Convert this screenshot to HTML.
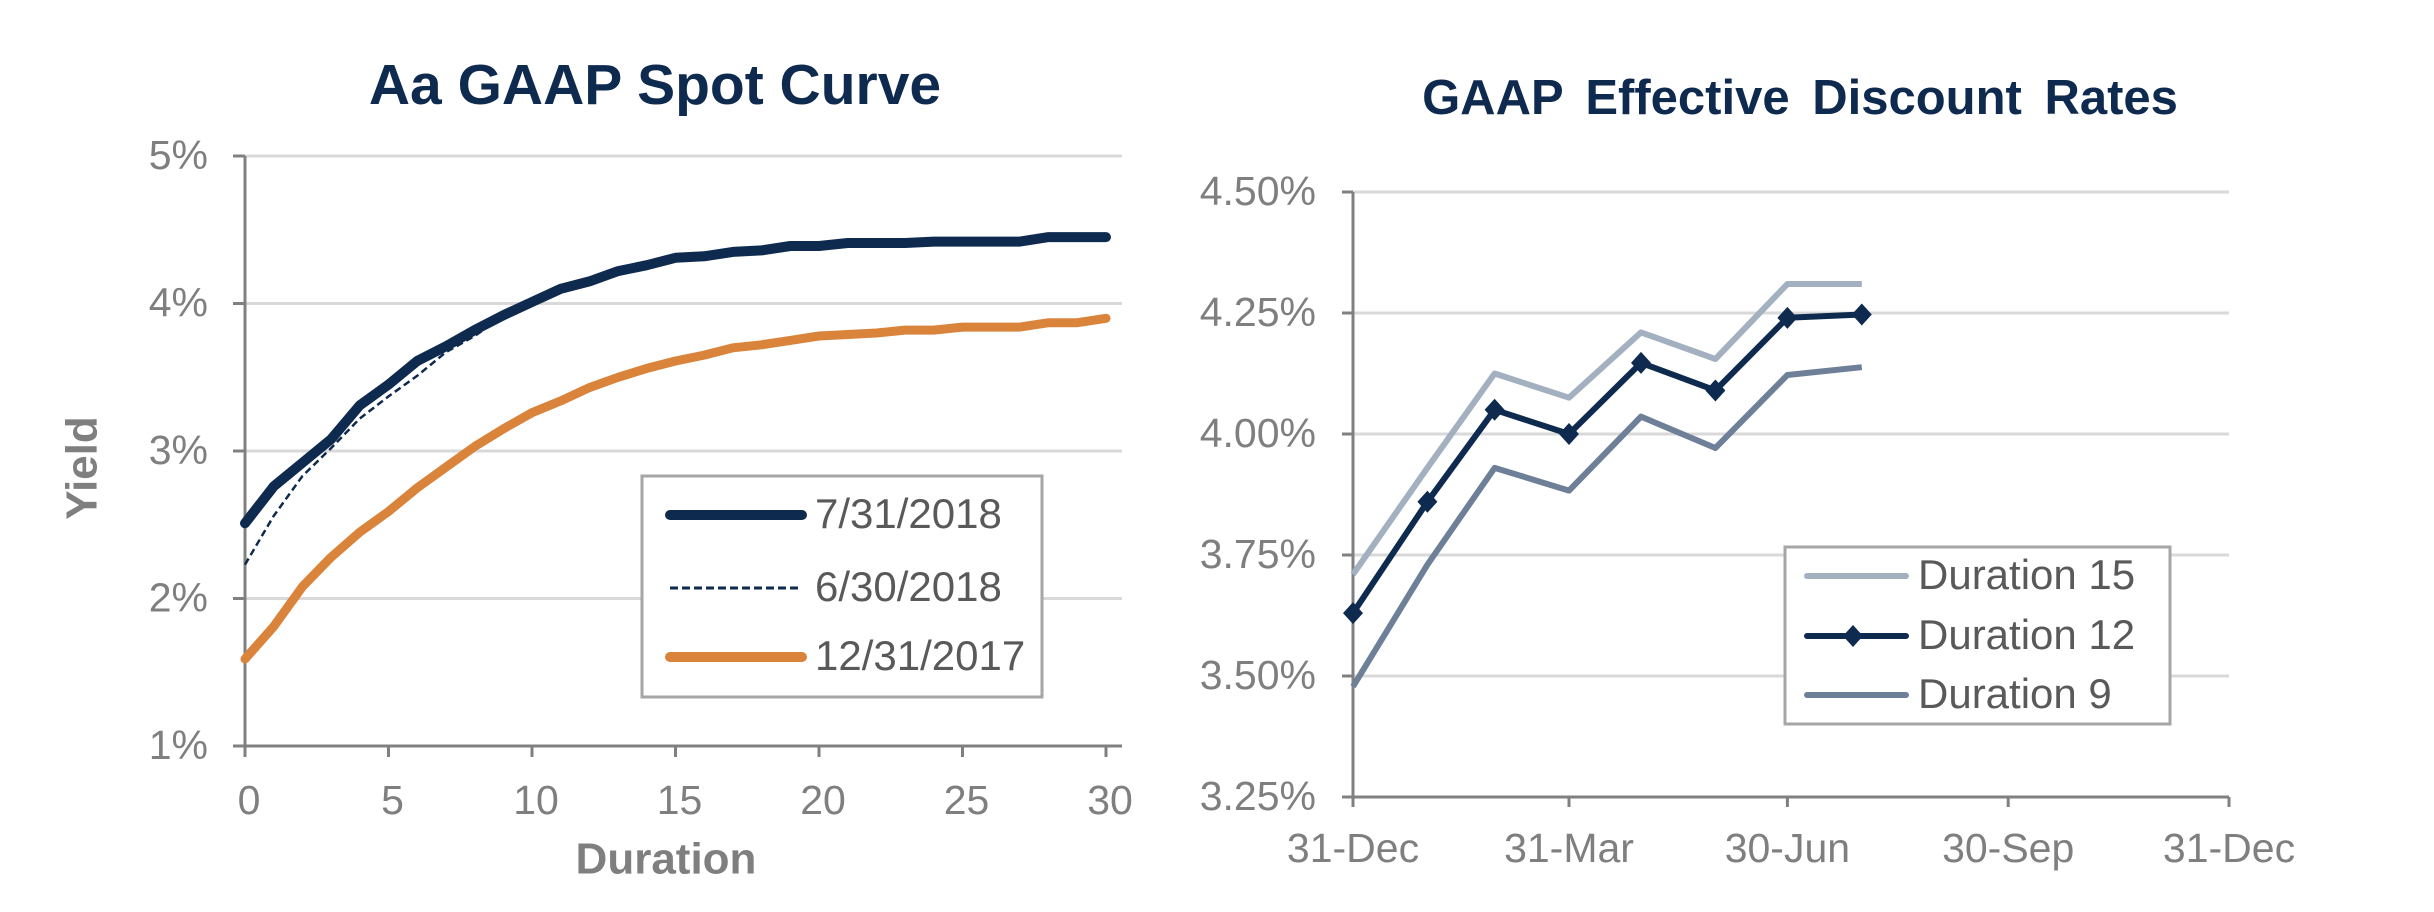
<!DOCTYPE html>
<html><head><meta charset="utf-8"><style>
html,body{margin:0;padding:0;background:#fff;overflow:hidden;}
svg{display:block;}
text{font-family:"Liberation Sans",sans-serif;}
.t{font-weight:bold;fill:#0f2a4f;}
.tick{fill:#7f7f7f;font-size:41px;}
.leg{fill:#595959;font-size:42px;}
</style></head><body>
<svg id="c" width="2434" height="912" viewBox="0 0 2434 912" xmlns="http://www.w3.org/2000/svg">
<text class="t" x="655" y="89" font-size="57" text-anchor="middle" dominant-baseline="middle">Aa GAAP Spot Curve</text>
<text class="t" x="1800" y="101" font-size="49" text-anchor="middle" dominant-baseline="middle" word-spacing="9">GAAP Effective Discount Rates</text>
<text x="666" y="862" font-size="44" font-weight="bold" fill="#7f7f7f" text-anchor="middle" dominant-baseline="middle">Duration</text>
<text x="85" y="468" font-size="44" font-weight="bold" fill="#7f7f7f" text-anchor="middle" dominant-baseline="middle" transform="rotate(-90 85 468)">Yield</text>
<g id="L"></g><g id="R"></g>
</svg>
<script>
const NS="http://www.w3.org/2000/svg";
// Left chart data
const durations=[0,1,2,3,4,5,6,7,8,9,10,11,12,13,14,15,16,17,18,19,20,21,22,23,24,25,26,27,28,29,30];
const y20180731=[2.51,2.76,2.92,3.08,3.31,3.45,3.61,3.71,3.82,3.92,4.01,4.1,4.15,4.22,4.26,4.31,4.32,4.35,4.36,4.39,4.39,4.41,4.41,4.41,4.42,4.42,4.42,4.42,4.45,4.45,4.45];
const durations0630=[0,1,2,3,4,5,6,7,8,8.3];
const y20180630=[2.23,2.56,2.83,3.02,3.22,3.37,3.51,3.67,3.78,3.82];
const y20171231=[1.59,1.81,2.08,2.28,2.45,2.59,2.75,2.89,3.03,3.15,3.26,3.34,3.43,3.5,3.56,3.61,3.65,3.7,3.72,3.75,3.78,3.79,3.8,3.82,3.82,3.84,3.84,3.84,3.87,3.87,3.9];
const leftYTicks=[1,2,3,4,5];
const leftYLabels=["1%","2%","3%","4%","5%"];
const leftXTicks=[0,5,10,15,20,25,30];
// Right chart data
const days=[0,31,59,90,120,151,181,212];
const dur15=[3.71,3.93,4.125,4.075,4.21,4.155,4.31,4.31];
const dur12=[3.63,3.86,4.05,4.0,4.147,4.09,4.24,4.247];
const dur9=[3.478,3.73,3.93,3.883,4.036,3.971,4.122,4.138];
const rightYTicks=[3.25,3.5,3.75,4.0,4.25,4.5];
const rightYLabels=["3.25%","3.50%","3.75%","4.00%","4.25%","4.50%"];
const rightXTicks=[0,90,181,273,365];
const rightXLabels=["31-Dec","31-Mar","30-Jun","30-Sep","31-Dec"];

function el(tag,attrs,parent,txt){const e=document.createElementNS(NS,tag);for(const k in attrs)e.setAttribute(k,attrs[k]);if(txt!==undefined)e.textContent=txt;parent.appendChild(e);return e;}
function path(xs,ys,fx,fy){return xs.map((x,i)=>(i?'L':'M')+fx(x).toFixed(1)+','+fy(ys[i]).toFixed(1)).join('');}

// LEFT
const L=document.getElementById('L');
const lx=v=>245+v*(1106-245)/30, ly=v=>746-(v-1)*147.5;
leftYTicks.forEach((v,i)=>{
  if(v>1){const g=el('line',{x1:245,x2:1122,y1:ly(v),y2:ly(v),stroke:'#d9d9d9','stroke-width':3},L);
  }
  el('line',{x1:233,x2:245,y1:ly(v),y2:ly(v),stroke:'#808080','stroke-width':3},L);
  const t=el('text',{x:208,y:ly(v)+2,'text-anchor':'end','dominant-baseline':'middle',class:'tick'},L,leftYLabels[i]);
  
});
leftXTicks.forEach(v=>{
  el('line',{x1:lx(v),x2:lx(v),y1:746,y2:757,stroke:'#808080','stroke-width':3},L);
  const t=el('text',{x:lx(v)+4,y:803,'text-anchor':'middle','dominant-baseline':'middle',class:'tick'},L,String(v));
  
});
el('line',{x1:245,x2:245,y1:156,y2:757,stroke:'#808080','stroke-width':3},L);
el('line',{x1:233,x2:1122,y1:746,y2:746,stroke:'#808080','stroke-width':3},L);
let p=el('path',{d:path(durations,y20171231,lx,ly),fill:'none',stroke:'#d9833b','stroke-width':9,'stroke-linejoin':'round','stroke-linecap':'round'},L);

p=el('path',{d:path(durations,y20180731,lx,ly),fill:'none',stroke:'#0f2a4f','stroke-width':10,'stroke-linejoin':'round','stroke-linecap':'round'},L);

p=el('path',{d:path(durations0630,y20180630,lx,ly),fill:'none',stroke:'#0f2a4f','stroke-width':2.5,'stroke-dasharray':'7,4'},L);

let lb=el('rect',{x:642,y:476,width:400,height:221,fill:'#fff',stroke:'#a6a6a6','stroke-width':3},L);

[['7/31/2018',515,'#0f2a4f',10,''],['6/30/2018',588,'#0f2a4f',3,'8,4'],['12/31/2017',657,'#d9833b',10,'']].forEach(r=>{
  el('line',{x1:670,x2:802,y1:r[1],y2:r[1],stroke:r[2],'stroke-width':r[3],'stroke-dasharray':r[4]||'none','stroke-linecap':r[4]?'butt':'round'},L);
  const t=el('text',{x:815,y:r[1]+2,'dominant-baseline':'middle',class:'leg'},L,r[0]);
  
});

// RIGHT
const R=document.getElementById('R');
const rx=v=>1353+v*(2229-1353)/365, ry=v=>797-(v-3.25)*484;
rightYTicks.forEach((v,i)=>{
  if(v>3.25){const g=el('line',{x1:1353,x2:2229,y1:ry(v),y2:ry(v),stroke:'#d9d9d9','stroke-width':3},R);
  }
  el('line',{x1:1342,x2:1353,y1:ry(v),y2:ry(v),stroke:'#808080','stroke-width':3},R);
  const t=el('text',{x:1316,y:ry(v)+2,'text-anchor':'end','dominant-baseline':'middle',class:'tick','font-size':'40'},R,rightYLabels[i]);
  
});
rightXTicks.forEach((v,i)=>{
  el('line',{x1:rx(v),x2:rx(v),y1:797,y2:807,stroke:'#808080','stroke-width':3},R);
  const t=el('text',{x:rx(v),y:851,'text-anchor':'middle','dominant-baseline':'middle',class:'tick','font-size':'40'},R,rightXLabels[i]);
  
});
el('line',{x1:1353,x2:1353,y1:192,y2:807,stroke:'#808080','stroke-width':3},R);
el('line',{x1:1342,x2:2229,y1:797,y2:797,stroke:'#808080','stroke-width':3},R);
p=el('path',{d:path(days,dur15,rx,ry),fill:'none',stroke:'#a3b0c0','stroke-width':6,'stroke-linejoin':'round'},R);

p=el('path',{d:path(days,dur9,rx,ry),fill:'none',stroke:'#6e8098','stroke-width':6,'stroke-linejoin':'round'},R);

p=el('path',{d:path(days,dur12,rx,ry),fill:'none',stroke:'#0f2a4f','stroke-width':6,'stroke-linejoin':'round'},R);

days.forEach((d,i)=>{
  const x=rx(d),y=ry(dur12[i]);
  const m=el('path',{d:`M${x},${y-11}L${x+10},${y}L${x},${y+11}L${x-10},${y}Z`,fill:'#0f2a4f'},R);
  
});
lb=el('rect',{x:1785,y:547,width:385,height:177,fill:'#fff',stroke:'#a6a6a6','stroke-width':3},R);

[['Duration 15',576,'#a3b0c0',false],['Duration 12',636,'#0f2a4f',true],['Duration 9',695,'#6e8098',false]].forEach(r=>{
  el('line',{x1:1807,x2:1906,y1:r[1],y2:r[1],stroke:r[2],'stroke-width':6,'stroke-linecap':'round'},R);
  if(r[3])el('path',{d:`M1853,${r[1]-11}L1863,${r[1]}L1853,${r[1]+11}L1843,${r[1]}Z`,fill:r[2]},R);
  const t=el('text',{x:1918,y:r[1]+2,'dominant-baseline':'middle',class:'leg','font-size':'43'},R,r[0]);
  
});
</script>
</body></html>
